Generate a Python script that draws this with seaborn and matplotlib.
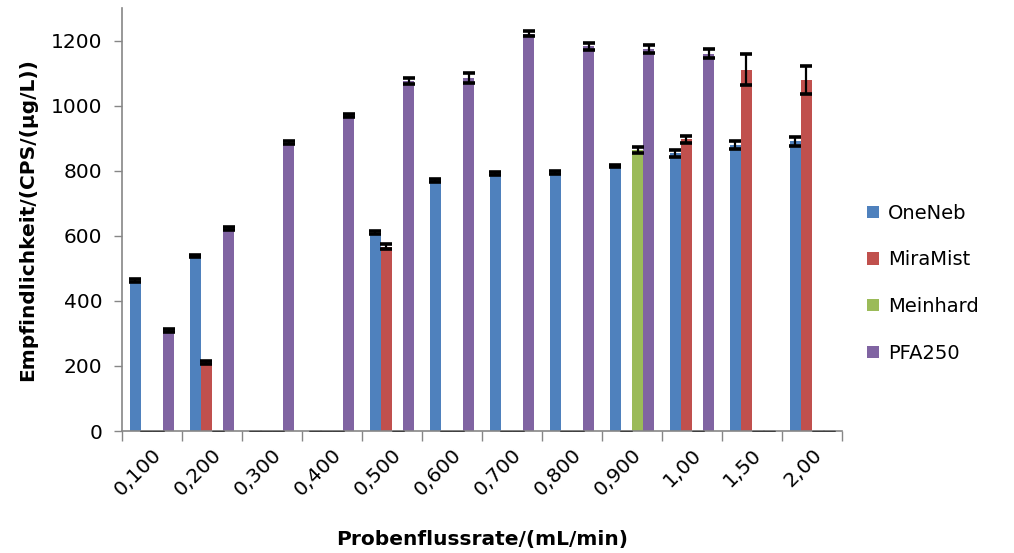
import matplotlib
matplotlib.use("Agg")
import matplotlib.pyplot as plt
import seaborn as sns
import pandas as pd
import numpy as np

# Sample flow rates (categories)
flow_rates = ["0,100", "0,200", "0,300", "0,400", "0,500", "0,600",
              "0,700", "0,800", "0,900", "1,00", "1,50", "2,00"]
nebulizers = ["OneNeb", "MiraMist", "Meinhard", "PFA250"]

# Sensitivity values (0 = not measured)
oneneb = [462, 538, 0, 0, 610, 770, 792, 795, 814, 853, 878, 891]
miramist = [0, 211, 0, 0, 567, 0, 0, 0, 0, 896, 1110, 1080]
meinhard = [0, 0, 0, 0, 0, 0, 0, 0, 864, 0, 0, 0]
pfa250 = [309, 623, 886, 970, 1077, 1084, 1221, 1182, 1174, 1160, 0, 0]

# Standard deviations
oneneb_err = [4, 4, 0, 0, 5, 4, 4, 5, 4, 11, 12, 14]
miramist_err = [0, 4, 0, 0, 7, 0, 0, 0, 0, 11, 48, 43]
meinhard_err = [0, 0, 0, 0, 0, 0, 0, 0, 10, 0, 0, 0]
pfa250_err = [4, 4, 5, 4, 9, 15, 8, 11, 12, 15, 0, 0]

values = [oneneb, miramist, meinhard, pfa250]
errors = [oneneb_err, miramist_err, meinhard_err, pfa250_err]
colors = ["#4F81BD", "#C0504D", "#9BBB59", "#8064A2"]

df = pd.DataFrame({
    "Flussrate": np.tile(flow_rates, len(nebulizers)),
    "Zerstäuber": np.repeat(nebulizers, len(flow_rates)),
    "Empfindlichkeit": np.concatenate(values),
})

sns.set_theme(style="white")
plt.rcParams["font.family"] = ["DejaVu Sans"]
plt.rcParams["text.color"] = "black"
plt.rcParams["axes.labelcolor"] = "black"
plt.rcParams["xtick.labelcolor"] = "black"
plt.rcParams["ytick.labelcolor"] = "black"

fig = plt.figure(figsize=(10.14, 5.53), dpi=100)
ax = fig.add_axes([0.1203, 0.2206, 0.7101, 0.7649])

sns.barplot(data=df, x="Flussrate", y="Empfindlichkeit", hue="Zerstäuber",
            hue_order=nebulizers, order=flow_rates, palette=colors,
            errorbar=None, width=0.74, gap=0, saturation=1, ax=ax,
            edgecolor="none", linewidth=0)

# Error bars: heavy caps for measured points, thin baseline marks for empty slots
for container, err in zip(ax.containers, errors):
    xs = np.array([b.get_x() + b.get_width() / 2 for b in container])
    ys = np.array([b.get_height() for b in container])
    err = np.array(err)
    measured = ys > 0
    ax.errorbar(xs[measured], ys[measured], yerr=err[measured], fmt="none",
                ecolor="black", elinewidth=1.6, capsize=4.2, capthick=2.6,
                zorder=5)
    ax.errorbar(xs[~measured], ys[~measured], yerr=err[~measured], fmt="none",
                ecolor="#404040", elinewidth=0.8, capsize=4.2, capthick=0.9,
                zorder=5)

ax.set_ylim(0, 1300)
ax.set_xlim(-0.5, len(flow_rates) - 0.5)
ax.set_yticks([0, 200, 400, 600, 800, 1000, 1200])
ax.tick_params(axis="y", labelsize=14.5, length=6, width=1, color="#868686",
               direction="out", left=True, pad=8)
ax.set_xticks(range(len(flow_rates)))
ax.set_xticklabels(flow_rates, rotation=45, ha="right", rotation_mode="anchor",
                   fontsize=14.5)
ax.tick_params(axis="x", which="major", length=0, pad=10)
ax.set_xticks(np.arange(-0.5, len(flow_rates)), minor=True)
ax.tick_params(axis="x", which="minor", length=7, width=1, color="#868686",
               direction="out", bottom=True)

for side in ["top", "right"]:
    ax.spines[side].set_visible(False)
for side in ["left", "bottom"]:
    ax.spines[side].set_color("#868686")
    ax.spines[side].set_linewidth(1.2)

ax.set_xlabel("Probenflussrate/(mL/min)", fontsize=14.5, fontweight="bold",
              labelpad=22)
ax.set_ylabel("Empfindlichkeit/(CPS/(µg/L))", fontsize=14.5, fontweight="bold",
              labelpad=10)

handles, labels = ax.get_legend_handles_labels()
ax.legend(handles, labels, loc="center left", bbox_to_anchor=(0.838, 0.488),
          bbox_transform=fig.transFigure, frameon=False, fontsize=14,
          labelspacing=1.42, handlelength=0.6, handleheight=0.6,
          handletextpad=0.45)

fig.savefig("out.png", dpi=100)
